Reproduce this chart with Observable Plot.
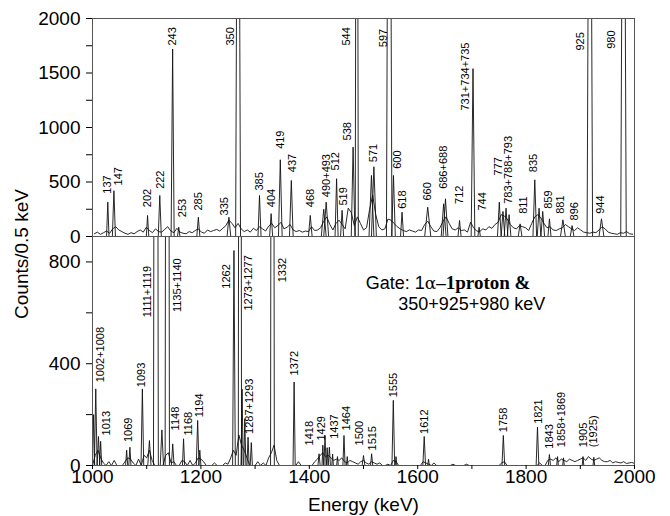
<!DOCTYPE html>
<html><head><meta charset="utf-8">
<script src="https://cdn.jsdelivr.net/npm/d3@7"></script>
<script src="https://cdn.jsdelivr.net/npm/@observablehq/plot@0.6"></script>
<style>
body{margin:0;background:#fff;}
#chart{position:relative;width:670px;height:516px;font-family:"Liberation Sans",Arial,Helvetica,sans-serif;}
#chart svg{display:block;overflow:visible;background:transparent;}
#ylab{position:absolute;left:-78px;top:244px;width:200px;height:20px;line-height:20px;text-align:center;font-size:19px;transform:rotate(-90deg);color:#000;}
</style></head>
<body><div id="chart"><div id="ylab">Counts/0.5 keV</div></div>
<script>
// ---------- TOP PANEL (112–998 keV) ----------
const topDomain = [112, 998];
// background counts sampled every 5 keV, from 115 keV
const topBgC = [
 25,40,20,35,50,30,70,90,60,45,
 30,20,35,25,45,60,40,85,55,35,
 70,45,40,65,90,50,35,75,40,30,
 25,45,35,55,70,40,30,60,45,55,
 65,50,75,100,150,120,80,120,70,45,
 60,40,75,55,90,70,50,95,120,80,
 100,130,70,85,110,60,45,55,40,50,
 45,90,55,60,80,140,180,110,60,120,
 150,110,70,260,220,100,180,120,60,80,
 250,380,200,90,60,70,160,150,120,90,
 70,55,45,60,50,40,60,55,110,140,
 90,50,45,80,140,180,120,70,60,80,
 55,60,40,130,80,50,45,70,60,90,
 75,110,130,200,190,160,110,80,70,100,
 90,80,55,120,180,200,170,120,80,90,
 60,55,70,80,110,90,70,55,80,60,
 40,35,30,40,35,60,90,70,40,30,
 25,20,35,30,45,25,20];
const topBgE = d3.range(115, 1000, 5);
// peaks: energy, counts, half-width (keV)
const topPeakE = [137,147,202,222,243,253,285,335,350,385,404,419,437,468,490,494,511,520,538,544,568,572,597,604,618,660,686,689,712,734,744,777,783,788,793,811,835,842,848,859,881,896,925,944,980];
const topPeakC = [315,420,193,376,1720,85,177,177,6000,376,210,704,514,193,250,315,530,240,820,8000,560,640,7000,560,223,269,300,346,147,1540,85,315,230,260,200,116,520,260,230,162,153,100,6000,162,6000];
const topPeakW = [2,2.5,2,2.5,2.5,2,2.5,3,4,2.5,2.5,3,3,3,4,4,2.5,2.5,3,2.5,4,4,4.5,3,2.5,5,4,4,2.5,3,2,3,3,3,3,3,3,3,3,2.5,4,3,4.5,4,4.5];
// labels
const topLabelText = ["137","147","202","222","243","253","285","335","350","385","404","419","437","468","490+493","512","519","538","544","571","597","600","618","660","686+688","712","731+734+735","744","777","783+788+793","811","835","859","881","896","925","944","980"];
const topLabelE = [136.5,155,202,223,243,258.6,285,328,337.5,385,404,419,439,468,494,509.5,522.7,528,527,570.7,588,610,619,659,686,712,721.5,749,776,792,816,833,857.5,876.7,899.6,910,943,959.8];
const topLabelC = [393,468,269,437,1752,177,238,193,1752,422,269,804,590,269,361,606,284,881,1752,682,1737,621,254,330,437,299,1156,238,560,300,208,590,254,208,147,1706,208,1722];

// ---------- BOTTOM PANEL (1000–2000 keV) ----------
const bottomDomain = [1000, 2000];
const bottomBgC = [
 0,40,60,30,10,0,15,0,20,0,
 0,0,15,30,25,10,0,25,0,40,
 30,60,20,0,0,0,0,40,50,10,
 15,0,0,20,15,0,20,0,10,30,
 25,15,0,0,0,10,0,0,0,10,
 5,30,60,40,120,80,60,30,0,0,
 0,15,0,10,0,30,50,80,20,0,
 0,0,0,0,0,0,15,0,0,0,
 0,0,15,25,40,50,35,40,30,20,
 25,20,30,15,10,20,15,10,5,15,
 20,10,5,15,10,5,10,0,0,5,
 0,20,15,0,0,0,0,0,0,0,
 0,0,15,10,5,0,10,0,0,0,
 0,0,0,5,0,0,0,0,5,0,
 0,0,0,0,0,0,0,0,0,0,
 0,10,15,0,0,0,0,0,0,0,
 0,0,0,0,0,10,0,0,20,25,
 20,30,15,25,20,15,25,20,15,20,
 25,30,20,35,25,20,25,30,20,15,
 15,20,10,15,12,10,15,8,10,12,
 8];
const bottomBgE = d3.range(1000, 2001, 5);
const bottomPeakE = [1002,1006,1011,1015,1063,1069,1092,1105,1117,1128,1138,1148,1168,1194,1198,1261,1272,1276,1281,1287,1293,1332,1372,1418,1425,1429,1433,1437,1443,1452,1464,1470,1500,1515,1555,1560,1612,1620,1758,1821,1843,1858,1869,1905,1925];
const bottomPeakC = [200,301,114,95,60,72,301,98,6000,140,6000,85,105,177,60,845,6000,300,184,111,90,6000,328,46,80,118,70,72,45,35,118,35,39,46,256,35,114,25,118,151,43,35,30,35,32];
const bottomPeakW = [2,2.5,2.5,2,2,2,2.5,3,4.5,3,4,2.5,2,2.5,2,2.5,3,2,2,2,2,3.5,2,2,1.5,2,1.5,2,1.5,1.5,2,1.5,2.5,2,2.5,1.5,2.5,1.5,2.5,2.5,2,1.5,1.5,1.5,1.5];
const bottomLabelText = ["1002+1008","1013","1069","1093","1111+1119","1135+1140","1148","1168","1194","1262","1273+1277","1287+1293","1332","1372","1418","1429","1437","1464","1500","1515","1555","1612","1758","1821","1843","1858+1869","1905","(1925)"];
const bottomLabelE = [1014.8,1026,1067,1090,1101,1156,1154,1176.5,1197,1247,1288,1290,1351,1372.7,1400,1422,1445.7,1469,1492,1516,1556,1613,1758,1822,1843,1866,1905,1925];
const bottomLabelC = [327,118,92,308,583,603,138,118,190,695,609,124,720,354,79,98,105,138,79,59,268,124,131,164,66,72,72,72];

// gate annotation (energy, counts of baseline)
const gateLine1 = {e: 1505, c: 690};
const gateLine2 = {e: 1565, c: 610, text: "350+925+980 keV"};

// ---------- build tables ----------
const FONT = '"Liberation Sans", Arial, Helvetica, sans-serif';
function bgTable(E, C) { return E.map((e, i) => ({e, c: C[i]})); }
function peakTable(E, C, W) {
  const out = [];
  E.forEach((e, i) => {
    out.push({id: i, e: e - W[i], c: 0});
    out.push({id: i, e: e, c: C[i]});
    out.push({id: i, e: e + W[i], c: 0});
  });
  return out;
}
function labelTable(T, E, C) { return T.map((t, i) => ({t, e: E[i], c: C[i]})); }

const lineStyle = {stroke: "#111", strokeWidth: 0.9, clip: true};

const topPlot = Plot.plot({
  width: 670, height: 236,
  marginTop: 18, marginBottom: 0, marginLeft: 92, marginRight: 36,
  style: {fontFamily: FONT, fontSize: "19px", overflow: "visible", background: "transparent"},
  x: {domain: topDomain, axis: null, label: null},
  y: {domain: [0, 2000], label: null},
  marks: [
    Plot.line(bgTable(topBgE, topBgC), {x: "e", y: "c", ...lineStyle}),
    Plot.line(peakTable(topPeakE, topPeakC, topPeakW), {x: "e", y: "c", z: "id", ...lineStyle}),
    Plot.frame({stroke: "#555", strokeWidth: 1}),
    Plot.axisY({ticks: d3.range(0, 2001, 250), tickFormat: d => d % 500 === 0 ? String(d) : "", tickSize: 6, tickPadding: 6, fontSize: 19, label: null, stroke: "#000"}),
    Plot.text(labelTable(topLabelText, topLabelE, topLabelC), {x: "e", y: "c", text: "t", rotate: -90, textAnchor: "start", lineAnchor: "middle", fontSize: 11, fill: "#000"})
  ]
});

const bottomPlot = Plot.plot({
  width: 670, height: 280,
  marginTop: 0, marginBottom: 51, marginLeft: 92, marginRight: 36,
  style: {fontFamily: FONT, fontSize: "19px", overflow: "visible", background: "transparent"},
  x: {domain: bottomDomain, label: null},
  y: {domain: [0, 900], label: null},
  marks: [
    Plot.line(bgTable(bottomBgE, bottomBgC), {x: "e", y: "c", ...lineStyle}),
    Plot.line(peakTable(bottomPeakE, bottomPeakC, bottomPeakW), {x: "e", y: "c", z: "id", ...lineStyle}),
    Plot.frame({stroke: "#555", strokeWidth: 1}),
    Plot.axisY({ticks: d3.range(0, 801, 200), tickFormat: d => d % 400 === 0 ? String(d) : "", tickSize: 6, tickPadding: 6, fontSize: 19, label: null}),
    Plot.axisX({ticks: d3.range(1000, 2001, 100), tickFormat: d => d % 200 === 0 ? String(d) : "", tickSize: 4, tickPadding: 0, fontSize: 19, label: null}),
    Plot.text(["Energy (keV)"], {frameAnchor: "bottom", lineAnchor: "top", dy: 32, fontSize: 19}),
    Plot.text(labelTable(bottomLabelText, bottomLabelE, bottomLabelC), {x: "e", y: "c", text: "t", rotate: -90, textAnchor: "start", lineAnchor: "middle", fontSize: 11, fill: "#000"})
  ]
});

const chart = document.getElementById("chart");
chart.appendChild(topPlot);
chart.appendChild(bottomPlot);

// Gate annotation with mixed fonts
const sx = bottomPlot.scale("x"), sy = bottomPlot.scale("y");
const svg = d3.select(bottomPlot);
const t1 = svg.append("text")
  .attr("x", sx.apply(gateLine1.e)).attr("y", sy.apply(gateLine1.c))
  .attr("text-anchor", "start")
  .attr("font-size", 18).attr("fill", "#000");
t1.append("tspan").attr("font-family", FONT).text("Gate: 1");
t1.append("tspan").attr("font-family", '"DejaVu Serif", "Liberation Serif", serif').attr("font-size", 17).text("α");
t1.append("tspan").attr("font-family", '"Liberation Serif", "Times New Roman", serif').attr("font-weight", "bold").attr("font-size", 19).text("–1proton &");
svg.append("text")
  .attr("x", sx.apply(gateLine2.e)).attr("y", sy.apply(gateLine2.c))
  .attr("text-anchor", "start")
  .attr("font-size", 18).attr("font-family", FONT).attr("fill", "#000")
  .text(gateLine2.text);
</script></body></html>
